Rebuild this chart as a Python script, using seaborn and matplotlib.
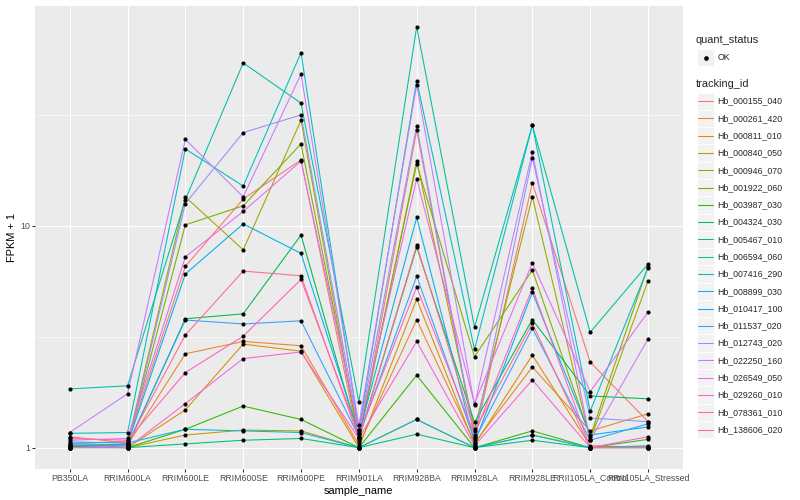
import numpy as np
import pandas as pd
import matplotlib
matplotlib.use("Agg")
import matplotlib.pyplot as plt
from matplotlib.patches import Rectangle
from matplotlib.lines import Line2D
from matplotlib.ticker import FixedLocator, NullFormatter
import seaborn as sns

# ---------------- data ----------------
samples = ["PB350LA", "RRIM600LA", "RRIM600LE", "RRIM600SE", "RRIM600PE",
           "RRIM901LA", "RRIM928BA", "RRIM928LA", "RRIM928LE",
           "RRII105LA_Control", "RRII105LA_Stressed"]

tracking_ids = ["Hb_000155_040", "Hb_000261_420", "Hb_000811_010", "Hb_000840_050",
                "Hb_000946_070", "Hb_001922_060", "Hb_003987_030", "Hb_004324_030",
                "Hb_005467_010", "Hb_006594_060", "Hb_007416_290", "Hb_008899_030",
                "Hb_010417_100", "Hb_011537_020", "Hb_012743_020", "Hb_022250_160",
                "Hb_026549_050", "Hb_029260_010", "Hb_078361_010", "Hb_138606_020"]

hb_000155_040 = [1.04, 1.07, 6.56, 13.2, 19.8, 1.06, 27.0, 1.10, 15.6, 2.43, 1.31]
hb_000261_420 = [1.02, 1.03, 2.65, 3.01, 2.88, 1.03, 3.77, 1.05, 2.31, 1.19, 1.42]
hb_000811_010 = [1.01, 1.00, 1.48, 2.93, 2.72, 1.00, 4.67, 1.03, 2.61, 1.02, 1.00]
hb_000840_050 = [1.03, 1.00, 1.14, 1.20, 1.19, 1.00, 1.34, 1.00, 1.14, 1.00, 1.01]
hb_000946_070 = [1.00, 1.04, 13.5, 7.79, 29.9, 1.08, 19.6, 1.21, 13.5, 1.08, 5.63]
hb_001922_060 = [1.00, 1.03, 10.1, 12.3, 23.4, 1.12, 19.0, 2.57, 6.31, 1.12, 6.55]
hb_003987_030 = [1.01, 1.00, 1.21, 1.54, 1.34, 1.00, 2.12, 1.00, 1.19, 1.00, 1.09]
hb_004324_030 = [1.00, 1.02, 3.81, 4.01, 9.08, 1.10, 8.00, 1.30, 3.78, 1.71, 1.66]
hb_005467_010 = [1.00, 1.00, 1.04, 1.08, 1.10, 1.00, 1.15, 1.00, 1.08, 1.00, 1.00]
hb_006594_060 = [1.84, 1.90, 13.1, 54.2, 35.7, 1.61, 78.9, 3.49, 28.4, 3.31, 6.72]
hb_007416_290 = [1.16, 1.17, 22.2, 15.1, 60.3, 1.20, 45.1, 2.77, 28.4, 1.46, 6.47]
hb_008899_030 = [1.06, 1.05, 1.21, 1.19, 1.17, 1.00, 1.34, 1.00, 1.14, 1.00, 1.02]
hb_010417_100 = [1.02, 1.04, 6.06, 10.2, 7.51, 1.15, 10.9, 1.05, 5.01, 1.14, 1.24]
hb_011537_020 = [1.04, 1.03, 3.76, 3.61, 3.73, 1.12, 5.93, 1.08, 3.45, 1.08, 1.28]
hb_012743_020 = [1.00, 1.02, 12.6, 26.3, 31.6, 1.18, 28.2, 1.12, 20.3, 1.36, 1.31]
hb_022250_160 = [1.17, 1.75, 24.5, 13.5, 48.3, 1.26, 43.2, 1.55, 21.5, 1.08, 3.09]
hb_026549_050 = [1.08, 1.10, 7.25, 11.6, 19.6, 1.20, 16.3, 1.58, 6.81, 1.79, 4.08]
hb_029260_010 = [1.00, 1.00, 1.58, 2.52, 2.70, 1.10, 3.01, 1.02, 2.02, 1.00, 1.12]
hb_078361_010 = [1.10, 1.08, 2.18, 3.18, 5.73, 1.15, 5.29, 1.14, 5.24, 1.00, 1.00]
hb_138606_020 = [1.12, 1.05, 3.22, 6.25, 5.95, 1.10, 8.16, 1.19, 3.63, 1.00, 1.00]

series_values = [hb_000155_040, hb_000261_420, hb_000811_010, hb_000840_050,
                 hb_000946_070, hb_001922_060, hb_003987_030, hb_004324_030,
                 hb_005467_010, hb_006594_060, hb_007416_290, hb_008899_030,
                 hb_010417_100, hb_011537_020, hb_012743_020, hb_022250_160,
                 hb_026549_050, hb_029260_010, hb_078361_010, hb_138606_020]

quant_status = "OK"

colors = ["#F8766D", "#EA8331", "#D89000", "#C09B00", "#A3A500", "#7CAE00",
          "#39B600", "#00BB4E", "#00BF7D", "#00C1A3", "#00BFC4", "#00BAE0",
          "#00B0F6", "#35A2FF", "#9590FF", "#C77CFF", "#E76BF3", "#FA62DB",
          "#FF62BC", "#FF6C91"]

rows = []
for tid, vals in zip(tracking_ids, series_values):
    for s, v in zip(samples, vals):
        rows.append({"tracking_id": tid, "sample_name": s, "fpkm1": v,
                     "quant_status": quant_status})
df = pd.DataFrame(rows)

# ---------------- figure ----------------
W, H, DPI = 800, 500, 72
sns.set_theme(style="darkgrid")
plt.rcParams["font.family"] = ["Liberation Sans", "DejaVu Sans"]
fig = plt.figure(figsize=(W / DPI, H / DPI), dpi=DPI)
fig.patch.set_facecolor("white")

pl, pr, pt, pb = 35.0, 682.7, 5.7, 468.7
ax = fig.add_axes([pl / W, 1 - pb / H, (pr - pl) / W, (pb - pt) / H])
ax.set_facecolor("#EBEBEB")

palette = dict(zip(tracking_ids, colors))
sns.lineplot(data=df, x="sample_name", y="fpkm1", hue="tracking_id",
             hue_order=tracking_ids, palette=palette, estimator=None,
             sort=False, units="tracking_id", linewidth=1.07, legend=False, ax=ax)
sns.scatterplot(data=df, x="sample_name", y="fpkm1", color="black", s=14,
                marker="o", edgecolor="black", linewidth=0.3, legend=False,
                ax=ax, zorder=5)

ax.set_yscale("log")
lo, hi = np.log10(df["fpkm1"].min()), np.log10(df["fpkm1"].max())
pad = (hi - lo) * 0.05
ax.set_ylim(10 ** (lo - pad), 10 ** (hi + pad))
ax.set_xlim(-0.6, len(samples) - 1 + 0.6)

ax.yaxis.set_major_locator(FixedLocator([1, 10, 100]))
ax.yaxis.set_minor_locator(FixedLocator([10 ** 0.5, 10 ** 1.5]))
ax.yaxis.set_minor_formatter(NullFormatter())
ax.set_yticklabels(["1", "10", "100"])
ax.set_xticks(range(len(samples)))
ax.set_xticklabels(samples)

ax.grid(True, which="major", color="white", linewidth=1.07)
ax.grid(True, which="minor", axis="y", color="white", linewidth=0.53)
ax.set_axisbelow(True)
for sp in ax.spines.values():
    sp.set_visible(False)
ax.tick_params(axis="both", which="major", length=2.75, width=1.07,
               color="#333333", labelcolor="#4D4D4D", labelsize=8.8, pad=2.2,
               bottom=True, left=True)
ax.tick_params(axis="both", which="minor", length=0)

ax.set_xlabel("sample_name", fontsize=11, color="black", labelpad=3)
ax.set_ylabel("FPKM + 1", fontsize=11, color="black", labelpad=3)

# ---------------- legends (ggplot-like) ----------------
def fx(x):
    return x / W

def fy(y):
    return 1 - y / H

key = 17.28
kx = 697.0
tx = 717.5

fig.text(fx(696), fy(40), "quant_status", fontsize=11, va="center", ha="left")
yc = 57.5
fig.add_artist(Rectangle((fx(kx), fy(yc + key / 2)), key / W, key / H,
                         transform=fig.transFigure, facecolor="#F2F2F2",
                         edgecolor="white", linewidth=0.8))
fig.add_artist(Line2D([fx(kx + key / 2)], [fy(yc)], transform=fig.transFigure,
                      marker="o", markersize=3.6, color="black", linestyle="none"))
fig.text(fx(tx), fy(yc), quant_status, fontsize=8.8, va="center", ha="left")

fig.text(fx(696), fy(84), "tracking_id", fontsize=11, va="center", ha="left")
y0 = 101.2
for i, (tid, col) in enumerate(zip(tracking_ids, colors)):
    yc = y0 + i * key
    fig.add_artist(Rectangle((fx(kx), fy(yc + key / 2)), key / W, key / H,
                             transform=fig.transFigure, facecolor="#F2F2F2",
                             edgecolor="white", linewidth=0.8))
    fig.add_artist(Line2D([fx(kx + 1), fx(kx + key - 1)], [fy(yc), fy(yc)],
                          transform=fig.transFigure, color=col, linewidth=1.07))
    fig.text(fx(tx), fy(yc), tid, fontsize=8.8, va="center", ha="left")

fig.savefig("out.png", dpi=DPI, facecolor="white")
